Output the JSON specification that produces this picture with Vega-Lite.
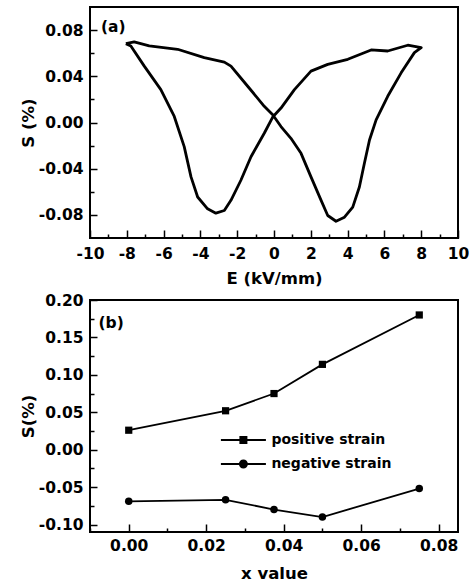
{
  "$schema": "https://vega.github.io/schema/vega-lite/v6.json",
  "background": "white",
  "padding": {"left": 19, "top": 6, "right": 2, "bottom": 0},
  "spacing": 4,
  "config": {
    "view": {"stroke": "black", "strokeWidth": 2},
    "axis": {
      "domain": false, "grid": false,
      "labelFont": "DejaVu Sans", "labelFontWeight": "bold", "labelFontSize": 15.5, "labelColor": "black",
      "titleFont": "DejaVu Sans", "titleFontWeight": "bold", "titleFontSize": 16.5, "titleColor": "black",
      "tickColor": "black", "tickWidth": 1.5, "labelFlush": false, "labelOverlap": false
    }
  },
  "datasets": {
    "loop": [
      {"i": 0, "E": -8.05, "S": 0.0683},
      {"i": 1, "E": -7.60, "S": 0.0698},
      {"i": 2, "E": -6.78, "S": 0.0663},
      {"i": 3, "E": -5.24, "S": 0.0634},
      {"i": 4, "E": -3.79, "S": 0.0561},
      {"i": 5, "E": -2.70, "S": 0.0523},
      {"i": 6, "E": -2.34, "S": 0.0488},
      {"i": 7, "E": -1.43, "S": 0.0314},
      {"i": 8, "E": -0.53, "S": 0.0140},
      {"i": 9, "E": -0.07, "S": 0.0067},
      {"i": 10, "E": 0.38, "S": -0.0035},
      {"i": 11, "E": 0.92, "S": -0.0137},
      {"i": 12, "E": 1.47, "S": -0.0267},
      {"i": 13, "E": 2.01, "S": -0.0471},
      {"i": 14, "E": 2.56, "S": -0.0674},
      {"i": 15, "E": 2.92, "S": -0.0805},
      {"i": 16, "E": 3.37, "S": -0.0855},
      {"i": 17, "E": 3.83, "S": -0.0820},
      {"i": 18, "E": 4.28, "S": -0.0733},
      {"i": 19, "E": 4.64, "S": -0.0558},
      {"i": 20, "E": 4.91, "S": -0.0355},
      {"i": 21, "E": 5.19, "S": -0.0151},
      {"i": 22, "E": 5.55, "S": 0.0023},
      {"i": 23, "E": 6.18, "S": 0.0227},
      {"i": 24, "E": 6.91, "S": 0.0430},
      {"i": 25, "E": 7.63, "S": 0.0605},
      {"i": 26, "E": 8.00, "S": 0.0648},
      {"i": 27, "E": 7.27, "S": 0.0669},
      {"i": 28, "E": 6.18, "S": 0.0619},
      {"i": 29, "E": 5.28, "S": 0.0628},
      {"i": 30, "E": 4.01, "S": 0.0547},
      {"i": 31, "E": 2.92, "S": 0.0503},
      {"i": 32, "E": 2.01, "S": 0.0445},
      {"i": 33, "E": 1.11, "S": 0.0285},
      {"i": 34, "E": 0.38, "S": 0.0125},
      {"i": 35, "E": -0.07, "S": 0.0047},
      {"i": 36, "E": -0.53, "S": -0.0093},
      {"i": 37, "E": -1.25, "S": -0.0297},
      {"i": 38, "E": -1.80, "S": -0.0500},
      {"i": 39, "E": -2.34, "S": -0.0674},
      {"i": 40, "E": -2.70, "S": -0.0762},
      {"i": 41, "E": -3.16, "S": -0.0785},
      {"i": 42, "E": -3.61, "S": -0.0747},
      {"i": 43, "E": -4.15, "S": -0.0645},
      {"i": 44, "E": -4.51, "S": -0.0471},
      {"i": 45, "E": -4.88, "S": -0.0209},
      {"i": 46, "E": -5.42, "S": 0.0052},
      {"i": 47, "E": -6.15, "S": 0.0285},
      {"i": 48, "E": -7.05, "S": 0.0488},
      {"i": 49, "E": -7.78, "S": 0.0663},
      {"i": 50, "E": -8.05, "S": 0.0683}
    ],
    "tagA": [{"E": -9.4, "S": 0.083, "t": "(a)"}],
    "strain": [
      {"x": 0.0, "S": 0.026, "series": "positive strain"},
      {"x": 0.025, "S": 0.052, "series": "positive strain"},
      {"x": 0.0375, "S": 0.075, "series": "positive strain"},
      {"x": 0.05, "S": 0.114, "series": "positive strain"},
      {"x": 0.075, "S": 0.180, "series": "positive strain"},
      {"x": 0.0, "S": -0.069, "series": "negative strain"},
      {"x": 0.025, "S": -0.067, "series": "negative strain"},
      {"x": 0.0375, "S": -0.080, "series": "negative strain"},
      {"x": 0.05, "S": -0.090, "series": "negative strain"},
      {"x": 0.075, "S": -0.052, "series": "negative strain"}
    ],
    "tagB": [{"x": -0.0078, "S": 0.169, "t": "(b)"}]
  },
  "vconcat": [
    {
      "width": 368,
      "height": 231,
      "layer": [
        {
          "data": {"name": "loop"},
          "mark": {"type": "line", "color": "black", "strokeWidth": 2.8, "strokeJoin": "round"},
          "encoding": {
            "x": {
              "field": "E", "type": "quantitative",
              "scale": {"domain": [-10, 10], "nice": false, "zero": false},
              "axis": {
                "title": "E (kV/mm)",
                "values": [-10, -9, -8, -7, -6, -5, -4, -3, -2, -1, 0, 1, 2, 3, 4, 5, 6, 7, 8, 9, 10],
                "tickCount": 100,
                "labelExpr": "datum.value % 2 == 0 ? replace(format(datum.value, 'd'), '\u2212', '-') : ''",
                "tickSize": {"condition": {"test": "datum.value % 2 == 0", "value": -8}, "value": -4},
                "labelOverlap": false,
                "labelPadding": 16,
                "titlePadding": 5
              }
            },
            "y": {
              "field": "S", "type": "quantitative",
              "scale": {"domain": [-0.1, 0.1], "nice": false, "zero": false},
              "axis": {
                "title": "S (%)",
                "values": [-0.08, -0.06, -0.04, -0.02, 0, 0.02, 0.04, 0.06, 0.08],
                "tickCount": 100,
                "labelExpr": "abs(round(datum.value * 100)) % 4 == 0 ? replace(format(datum.value, '.2f'), '\u2212', '-') : ''",
                "tickSize": {"condition": {"test": "abs(round(datum.value * 100)) % 4 == 0", "value": -7}, "value": -4},
                "labelOverlap": false,
                "labelPadding": 14,
                "titlePadding": 2
              }
            },
            "order": {"field": "i", "type": "quantitative"}
          }
        },
        {
          "data": {"name": "tagA"},
          "mark": {"type": "text", "font": "DejaVu Sans", "fontWeight": "bold", "fontSize": 15.5, "align": "left", "baseline": "middle", "color": "black"},
          "encoding": {
            "x": {"field": "E", "type": "quantitative"},
            "y": {"field": "S", "type": "quantitative"},
            "text": {"field": "t"}
          }
        }
      ]
    },
    {
      "width": 368,
      "height": 232,
      "resolve": {"scale": {"shape": "independent"}},
      "layer": [
        {
          "data": {"name": "strain"},
          "mark": {"type": "line", "color": "black", "strokeWidth": 1.8},
          "encoding": {
            "x": {
              "field": "x", "type": "quantitative",
              "scale": {"domain": [-0.01, 0.085], "nice": false, "zero": false},
              "axis": {
                "title": "x value",
                "values": [-0.01, 0, 0.01, 0.02, 0.03, 0.04, 0.05, 0.06, 0.07, 0.08],
                "tickCount": 100,
                "labelExpr": "round(datum.value * 100) % 2 == 0 ? replace(format(datum.value, '.2f'), '\u2212', '-') : ''",
                "tickSize": {"condition": {"test": "round(datum.value * 100) % 2 == 0", "value": -8}, "value": -4},
                "labelOverlap": false,
                "labelPadding": 14,
                "titlePadding": 8
              }
            },
            "y": {
              "field": "S", "type": "quantitative",
              "scale": {"domain": [-0.11, 0.2], "nice": false, "zero": false},
              "axis": {
                "title": "S(%)",
                "values": [-0.1, -0.075, -0.05, -0.025, 0, 0.025, 0.05, 0.075, 0.1, 0.125, 0.15, 0.175, 0.2],
                "tickCount": 100,
                "labelExpr": "round(datum.value * 1000) % 50 == 0 ? replace(format(datum.value, '.2f'), '\u2212', '-') : ''",
                "tickSize": {"condition": {"test": "round(datum.value * 1000) % 50 == 0", "value": -7}, "value": -4},
                "labelOverlap": false,
                "labelPadding": 14,
                "titlePadding": 2
              }
            },
            "detail": {"field": "series", "type": "nominal"}
          }
        },
        {
          "data": {"name": "strain"},
          "transform": [{"filter": "datum.series == 'positive strain'"}],
          "mark": {"type": "point", "shape": "square", "filled": true, "color": "black", "size": 52, "opacity": 1},
          "encoding": {
            "x": {"field": "x", "type": "quantitative"},
            "y": {"field": "S", "type": "quantitative"}
          }
        },
        {
          "data": {"name": "strain"},
          "transform": [{"filter": "datum.series == 'negative strain'"}],
          "mark": {"type": "point", "shape": "circle", "filled": true, "color": "black", "size": 56, "opacity": 1},
          "encoding": {
            "x": {"field": "x", "type": "quantitative"},
            "y": {"field": "S", "type": "quantitative"}
          }
        },
        {
          "data": {"name": "strain"},
          "mark": {"type": "point", "filled": true, "color": "black", "size": 0, "opacity": 1},
          "encoding": {
            "x": {"field": "x", "type": "quantitative"},
            "y": {"field": "S", "type": "quantitative"},
            "shape": {
              "field": "series", "type": "nominal",
              "scale": {
                "domain": ["positive strain", "negative strain"],
                "range": [
                  "M-4.5,-0.2H4.5V0.2H-4.5ZM-0.8,-0.8H0.8V0.8H-0.8Z",
                  "M-4.5,-0.2H4.5V0.2H-4.5ZM0.9,0A0.9,0.9,0,1,1,-0.9,0A0.9,0.9,0,1,1,0.9,0Z"
                ]
              },
              "legend": {
                "title": null,
                "orient": "none",
                "legendX": 146.4,
                "legendY": 133,
                "padding": 0,
                "symbolSize": 100,
                "symbolFillColor": "black",
                "symbolStrokeColor": "black",
                "symbolStrokeWidth": 0,
                "symbolOpacity": 1,
                "labelFont": "DejaVu Sans",
                "labelFontWeight": "bold",
                "labelFontSize": 14,
                "labelColor": "black",
                "labelOffset": 21,
                "rowPadding": 10
              }
            }
          }
        },
        {
          "data": {"name": "tagB"},
          "mark": {"type": "text", "font": "DejaVu Sans", "fontWeight": "bold", "fontSize": 15.5, "align": "left", "baseline": "middle", "color": "black"},
          "encoding": {
            "x": {"field": "x", "type": "quantitative"},
            "y": {"field": "S", "type": "quantitative"},
            "text": {"field": "t"}
          }
        }
      ]
    }
  ]
}
